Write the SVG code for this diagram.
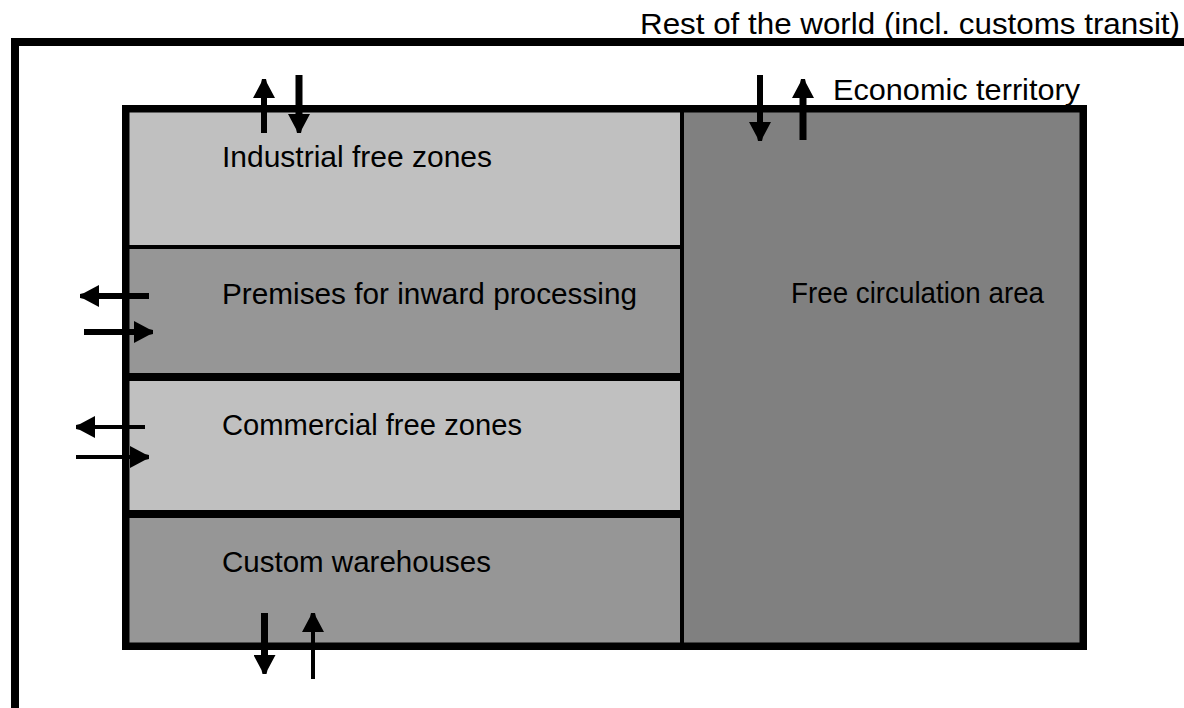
<svg xmlns="http://www.w3.org/2000/svg" width="1184" height="708" viewBox="0 0 1184 708">
  <style>
    .lbl { font-family: "Liberation Sans", Arial, sans-serif; font-size: 29px; fill: #000; }
    .edge { fill: none; stroke: #000; stroke-width: 8; }
    .thin { stroke: #000; stroke-width: 4; }
    .thick { stroke: #000; stroke-width: 8; }
    .arrow { stroke: #000; fill: none; marker-end: url(#head); }
  </style>
  <defs>
    <marker id="head" viewBox="0 0 19 22" refX="0" refY="11" markerWidth="19" markerHeight="22" markerUnits="userSpaceOnUse" orient="auto">
      <path d="M0,0 L15,8 L19,9 L19,13 L15,14 L0,22 Z" fill="#000"/>
    </marker>
  </defs>
  <rect width="1184" height="708" fill="#fff"/>

  <g id="rest-of-world">
    <path d="M15,708 L15,42 L1184,42" class="edge"/>
    <text x="1180" y="34" class="lbl" text-anchor="end" textLength="540" lengthAdjust="spacingAndGlyphs">Rest of the world (incl. customs transit)</text>
  </g>

  <g id="economic-territory">
    <rect x="126" y="109" width="957" height="537" fill="#969696"/>
    <text x="833" y="100" class="lbl" textLength="247" lengthAdjust="spacingAndGlyphs">Economic territory</text>
  </g>

  <g id="industrial-free-zones">
    <rect x="126" y="109" width="556" height="138" fill="#c0c0c0"/>
    <text x="222" y="167" class="lbl" textLength="270" lengthAdjust="spacingAndGlyphs">Industrial free zones</text>
  </g>

  <g id="premises-inward-processing">
    <rect x="126" y="247" width="556" height="130" fill="#969696"/>
    <text x="222" y="304" class="lbl" textLength="415" lengthAdjust="spacingAndGlyphs">Premises for inward processing</text>
  </g>

  <g id="commercial-free-zones">
    <rect x="126" y="377" width="556" height="137" fill="#c0c0c0"/>
    <text x="222" y="435" class="lbl" textLength="300" lengthAdjust="spacingAndGlyphs">Commercial free zones</text>
  </g>

  <g id="custom-warehouses">
    <rect x="126" y="514" width="556" height="132" fill="#969696"/>
    <text x="222" y="572" class="lbl" textLength="269" lengthAdjust="spacingAndGlyphs">Custom warehouses</text>
  </g>

  <g id="free-circulation-area">
    <rect x="682" y="109" width="401" height="537" fill="#808080"/>
    <text x="791" y="303" class="lbl" textLength="253" lengthAdjust="spacingAndGlyphs">Free circulation area</text>
  </g>

  <g id="dividers">
    <line x1="126" y1="247" x2="682" y2="247" class="thin"/>
    <line x1="126" y1="377" x2="682" y2="377" class="thick"/>
    <line x1="126" y1="514" x2="682" y2="514" class="thick"/>
    <line x1="682" y1="109" x2="682" y2="646" class="thin"/>
    <rect x="125.75" y="108.75" width="957.5" height="537.5" fill="none" stroke="#000" stroke-width="7.5"/>
  </g>

  <g id="connectors">
    <line x1="264" y1="133" x2="264" y2="98" class="arrow" stroke-width="6"/>
    <line x1="299" y1="75" x2="299" y2="114" class="arrow" stroke-width="7"/>
    <line x1="760" y1="75" x2="760" y2="122" class="arrow" stroke-width="6"/>
    <line x1="803" y1="140" x2="803" y2="98" class="arrow" stroke-width="7"/>
    <line x1="149" y1="296" x2="99" y2="296" class="arrow" stroke-width="6"/>
    <line x1="84" y1="332" x2="134" y2="332" class="arrow" stroke-width="6"/>
    <line x1="145" y1="427" x2="95" y2="427" class="arrow" stroke-width="4"/>
    <line x1="76" y1="457" x2="130" y2="457" class="arrow" stroke-width="4"/>
    <line x1="264.5" y1="613" x2="264.5" y2="655" class="arrow" stroke-width="7"/>
    <line x1="313" y1="679" x2="313" y2="632" class="arrow" stroke-width="4"/>
  </g>
</svg>
